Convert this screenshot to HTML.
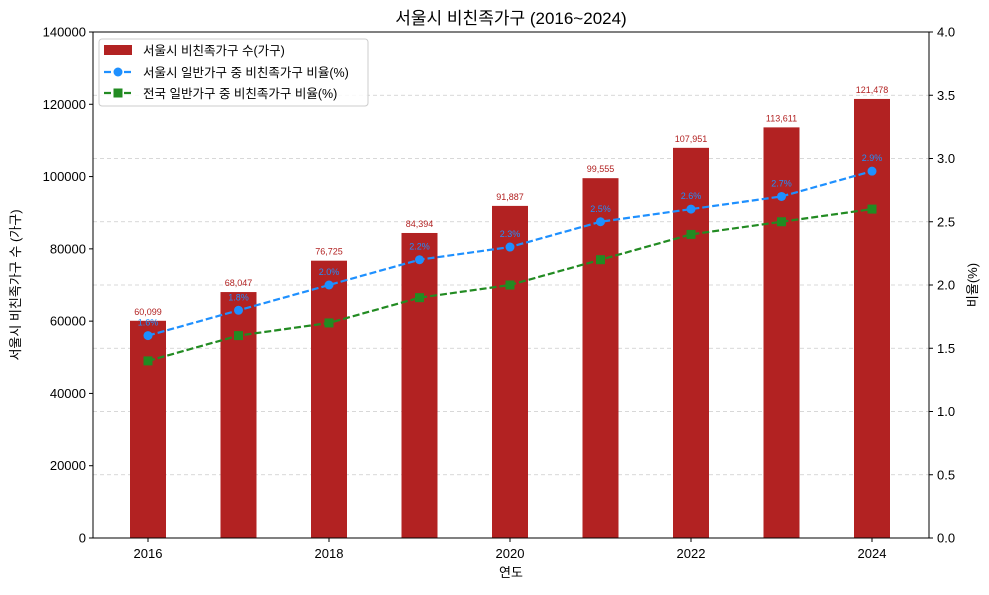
<!DOCTYPE html>
<html><head><meta charset="utf-8"><style>
body{margin:0;background:#fff;font-family:"Liberation Sans","Noto Sans CJK KR",sans-serif}
svg text{font-family:"Liberation Sans","Noto Sans CJK KR",sans-serif}
</style></head><body>
<svg id="c" width="989" height="590" xmlns="http://www.w3.org/2000/svg"></svg>
<script>
const years=[2016,2017,2018,2019,2020,2021,2022,2023,2024];
const households=[60099,68047,76725,84394,91887,99555,107951,113611,121478];
const seoulRatio=[1.6,1.8,2.0,2.2,2.3,2.5,2.6,2.7,2.9];
const nationRatio=[1.4,1.6,1.7,1.9,2.0,2.2,2.4,2.5,2.6];
const leftTicks=[0,20000,40000,60000,80000,100000,120000,140000];
const rightTicks=[0,0.5,1.0,1.5,2.0,2.5,3.0,3.5,4.0];
const xTicks=[2016,2018,2020,2022,2024];
const NS="http://www.w3.org/2000/svg",svg=document.getElementById('c');
const L=93,R=929,T=32,B=538;
const x=v=>148+(v-2016)*90.5;
const yl=v=>B-v/140000*(B-T);
const yr=v=>B-v/4*(B-T);
function el(t,a,p){const e=document.createElementNS(NS,t);for(const k in a)e.setAttribute(k,a[k]);(p||svg).appendChild(e);return e;}
// grid
rightTicks.slice(1,-1).forEach(v=>{const g=el('line',{x1:L,x2:R,y1:yr(v),y2:yr(v),stroke:'#ccc','stroke-dasharray':'4,3','stroke-width':0.8});

});
// bars
years.forEach((yv,i)=>{const b=el('rect',{x:x(yv)-18,y:yl(households[i]),width:36,height:B-yl(households[i]),fill:'#b22222'});


const t=el('text',{x:x(yv),y:yl(households[i])-6,'font-size':9,fill:'#b22222','text-anchor':'middle'});


t.textContent=households[i].toLocaleString('en-US');});
function series(vals,color,sq,labels,name){
const pts=years.map((yv,i)=>x(yv)+','+yr(vals[i])).join(' ');
const p=el('polyline',{points:pts,fill:'none',stroke:color,'stroke-width':2.2,'stroke-dasharray':'7,3'});


years.forEach((yv,i)=>{let m;
if(sq)m=el('rect',{x:x(yv)-4.5,y:yr(vals[i])-4.5,width:9,height:9,fill:color});
else m=el('circle',{cx:x(yv),cy:yr(vals[i]),r:4.5,fill:color});


if(labels){const t=el('text',{x:x(yv),y:yr(vals[i])-10,'font-size':9,fill:color,'text-anchor':'middle'});


t.textContent=vals[i].toFixed(1)+'%';}});}
series(nationRatio,'#228b22',true,false,'nation-ratio');
series(seoulRatio,'#1e90ff',false,true,'seoul-ratio');
// frame
const f=el('rect',{x:L,y:T,width:R-L,height:B-T,fill:'none',stroke:'#000','stroke-width':1});


leftTicks.forEach(v=>{el('line',{x1:L-4,x2:L,y1:yl(v),y2:yl(v),stroke:'#000'});
const t=el('text',{x:L-7,y:yl(v)+4.5,'font-size':13,'text-anchor':'end'});


t.textContent=v;});
rightTicks.forEach(v=>{el('line',{x1:R,x2:R+4,y1:yr(v),y2:yr(v),stroke:'#000'});
const t=el('text',{x:R+8,y:yr(v)+4.5,'font-size':13});


t.textContent=v.toFixed(1);});
xTicks.forEach(v=>{el('line',{x1:x(v),x2:x(v),y1:B,y2:B+4,stroke:'#000'});
const t=el('text',{x:x(v),y:B+20,'font-size':13,'text-anchor':'middle'});


t.textContent=v;});
</script>
<svg style="position:absolute;left:0;top:0" width="989" height="590" xmlns="http://www.w3.org/2000/svg">
<text x="511" y="24" font-size="17" text-anchor="middle">서울시 비친족가구 (2016~2024)</text>
<text x="511" y="577" font-size="13" text-anchor="middle">연도</text>
<text transform="translate(20,285) rotate(-90)" font-size="13" text-anchor="middle">서울시 비친족가구 수 (가구)</text>
<text transform="translate(977,285) rotate(-90)" font-size="13" text-anchor="middle">비율(%)</text>
<g>
<rect x="99" y="39" width="269" height="67" rx="3" fill="#fff" fill-opacity="0.85" stroke="#ccc"/>
<rect x="104" y="45" width="28" height="10" fill="#b22222"/>
<text x="143" y="55" font-size="12.5">서울시 비친족가구 수(가구)</text>
<line x1="104" x2="132" y1="72" y2="72" stroke="#1e90ff" stroke-width="2.2" stroke-dasharray="7,3"/>
<circle cx="118" cy="72" r="4.5" fill="#1e90ff"/>
<text x="143" y="77" font-size="12.5">서울시 일반가구 중 비친족가구 비율(%)</text>
<line x1="104" x2="132" y1="93" y2="93" stroke="#228b22" stroke-width="2.2" stroke-dasharray="7,3"/>
<rect x="113.5" y="88.5" width="9" height="9" fill="#228b22"/>
<text x="143" y="98" font-size="12.5">전국 일반가구 중 비친족가구 비율(%)</text>
</g>
</svg>
</body></html>
